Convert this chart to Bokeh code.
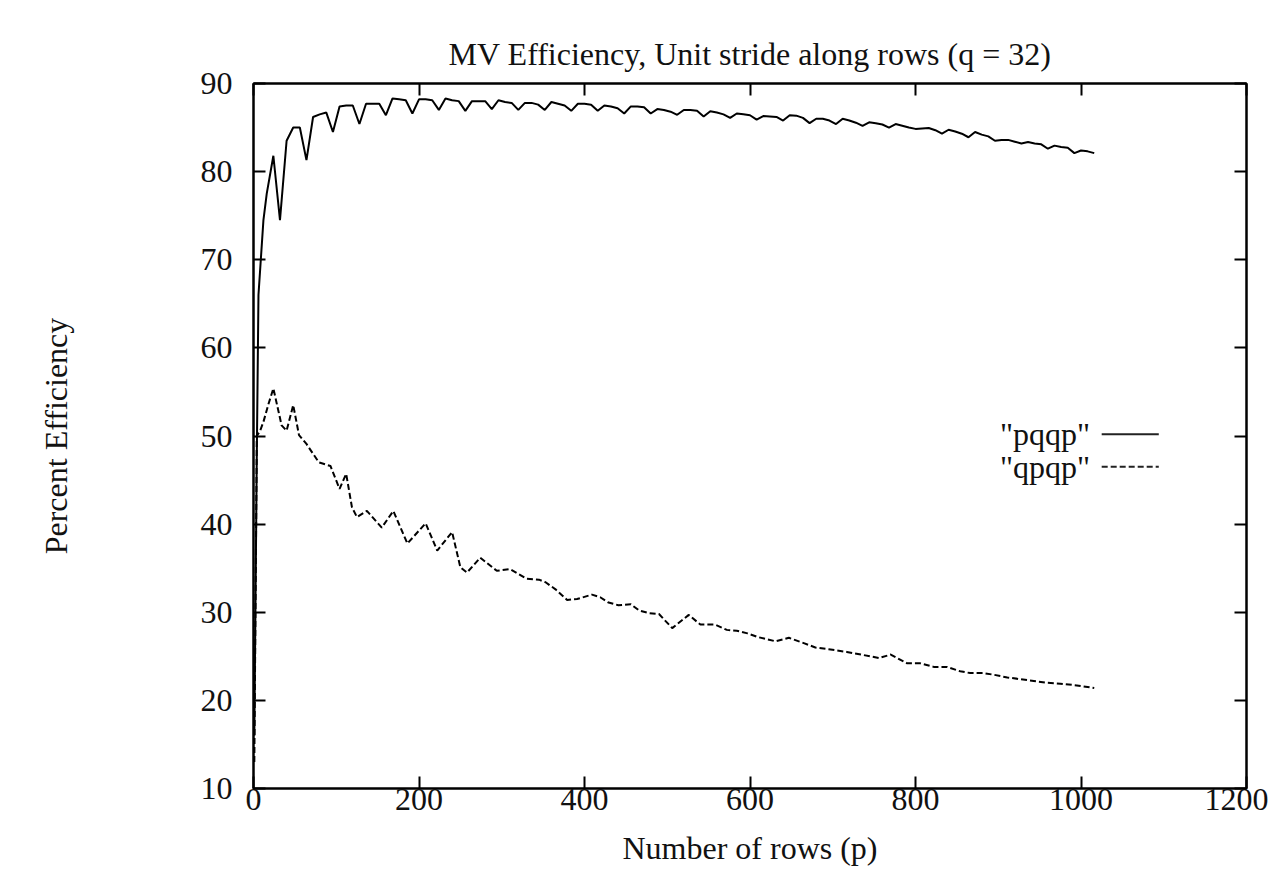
from bokeh.plotting import figure
from bokeh.models import LinearAxis, Range1d, FixedTicker, Label, Arrow
from bokeh.embed import file_html
from bokeh.resources import INLINE

# ---- data ----
pqqp_x = [1, 4, 6, 12, 16, 24, 32, 40, 48, 56, 64, 72, 80, 88, 96, 104, 112, 120, 128,
          136, 144, 152, 160, 168, 176, 184, 192, 200, 208, 216, 224, 232, 240, 248, 256,
          264, 272, 280, 288, 296, 304, 312, 320, 328, 336, 344, 352, 360, 368, 376, 384,
          392, 400, 408, 416, 424, 432, 440, 448, 456, 464, 472, 480, 488, 496, 504, 512,
          520, 528, 536, 544, 552, 560, 568, 576, 584, 592, 600, 608, 616, 624, 632, 640,
          648, 656, 664, 672, 680, 688, 696, 704, 712, 720, 728, 736, 744, 752, 760, 768,
          776, 784, 792, 800, 808, 816, 824, 832, 840, 848, 856, 864, 872, 880, 888, 896,
          904, 912, 920, 928, 936, 944, 952, 960, 968, 976, 984, 992, 1000, 1008, 1016]
pqqp_y = [16.0, 48.0, 66.0, 74.5, 77.5, 81.8, 74.5, 83.5, 85.0, 85.0, 81.3, 86.2, 86.5, 86.7, 84.5,
          87.4, 87.5, 87.5, 85.4, 87.7, 87.7, 87.7, 86.4, 88.3, 88.2, 88.1, 86.6, 88.2, 88.2,
          88.1, 87.0, 88.3, 88.1, 88.0, 86.9, 88.0, 88.0, 88.0, 87.1, 88.1, 87.9, 87.8, 87.0,
          87.8, 87.8, 87.6, 87.0, 87.9, 87.7, 87.5, 86.9, 87.7, 87.7, 87.6, 86.9, 87.5, 87.4,
          87.2, 86.6, 87.4, 87.4, 87.3, 86.6, 87.1, 87.0, 86.8, 86.45, 87.0, 87.0, 86.9, 86.25,
          86.85, 86.7, 86.5, 86.1, 86.6, 86.5, 86.4, 85.9, 86.3, 86.25, 86.2, 85.8, 86.4, 86.35,
          86.1, 85.5, 86.0, 86.0, 85.8, 85.4, 86.0, 85.8, 85.55, 85.2, 85.6, 85.5, 85.35, 85.0,
          85.4, 85.2, 85.0, 84.85, 84.9, 84.95, 84.7, 84.3, 84.75, 84.55, 84.3, 83.9, 84.5,
          84.2, 84.0, 83.5, 83.6, 83.6, 83.4, 83.2, 83.35, 83.2, 83.1, 82.6, 82.95, 82.8, 82.7,
          82.1, 82.4, 82.3, 82.1]

qpqp_x = [1, 4, 8, 12, 18, 24, 34, 40, 48, 55, 64, 79, 93, 104, 112, 119, 125, 137, 155,
          169, 186, 208, 222, 240, 250, 258, 274, 294, 310, 330, 345, 353, 365, 379, 391,
          409, 419, 429, 441, 456, 466, 478, 490, 506, 526, 540, 558, 572, 584, 597, 609,
          631, 647, 665, 679, 695, 717, 734, 756, 770, 790, 806, 822, 838, 854, 866, 882,
          895, 911, 927, 943, 959, 975, 995, 1016]
qpqp_y = [13.0, 50.0, 50.6, 51.6, 53.6, 55.4, 51.2, 50.6, 53.5, 50.1, 49.1, 47.0, 46.6, 44.0,
          45.7, 41.9, 40.8, 41.5, 39.6, 41.5, 37.8, 40.1, 37.0, 39.1, 35.1, 34.5, 36.2, 34.7,
          34.9, 33.8, 33.7, 33.4, 32.6, 31.4, 31.5, 32.0, 31.7, 31.1, 30.8, 30.9, 30.2, 29.9,
          29.8, 28.2, 29.7, 28.6, 28.6, 28.0, 27.9, 27.6, 27.2, 26.7, 27.1, 26.5, 26.0, 25.8,
          25.5, 25.2, 24.8, 25.2, 24.2, 24.2, 23.8, 23.8, 23.3, 23.1, 23.1, 22.9, 22.6, 22.4,
          22.2, 22.0, 21.9, 21.7, 21.4]

series_names = ['"pqqp"', '"qpqp"']
x_ticks = [0, 200, 400, 600, 800, 1000, 1200]
y_ticks = [10, 20, 30, 40, 50, 60, 70, 80, 90]
title_text = "MV Efficiency, Unit stride along rows (q = 32)"
x_label = "Number of rows (p)"
y_label = "Percent Efficiency"

FONT = "Liberation Serif"
FS = "32px"
INK = "#111111"

p = figure(width=1268, height=869, output_backend="svg", toolbar_location=None,
           x_range=Range1d(0, 1200), y_range=Range1d(10, 90),
           min_border_left=253, min_border_right=22, min_border_top=83, min_border_bottom=81,
           title=title_text)
p.background_fill_color = "white"
p.border_fill_color = "white"
p.outline_line_color = "black"
p.outline_line_width = 2
p.grid.visible = False

p.title.text_font = FONT
p.title.text_font_size = FS
p.title.text_font_style = "normal"
p.title.text_color = INK
p.title.align = "center"
p.title.standoff = 23

def style_axis(ax):
    ax.axis_line_color = "black"
    ax.axis_line_width = 2
    ax.major_tick_in = 12
    ax.major_tick_out = 0
    ax.major_tick_line_width = 2
    ax.major_tick_line_color = "black"
    ax.minor_tick_line_color = None
    ax.major_label_text_font = FONT
    ax.major_label_text_font_size = FS
    ax.major_label_text_color = INK
    ax.axis_label_text_font = FONT
    ax.axis_label_text_font_size = FS
    ax.axis_label_text_font_style = "normal"
    ax.axis_label_text_color = INK

xa = p.xaxis[0]
xa.ticker = FixedTicker(ticks=x_ticks)
style_axis(xa)
xa.major_label_standoff = 0
xa.axis_label = x_label
xa.axis_label_standoff = 17

ya = p.yaxis[0]
ya.ticker = FixedTicker(ticks=y_ticks)
style_axis(ya)
ya.major_label_standoff = 21
ya.axis_label = y_label
ya.axis_label_standoff = 124

# mirrored tick marks (gnuplot style), no labels drawn
for loc, ticks in (("above", x_ticks), ("right", y_ticks)):
    ax = LinearAxis(ticker=FixedTicker(ticks=ticks))
    style_axis(ax)
    ax.major_label_overrides = {t: "" for t in ticks}
    ax.major_label_text_font_size = "1px"
    ax.major_label_text_color = None
    ax.major_label_standoff = 0
    p.add_layout(ax, loc)

p.line(pqqp_x, pqqp_y, line_color="black", line_width=2)
p.line(qpqp_x, qpqp_y, line_color="black", line_width=2, line_dash="6 3")

# legend (gnuplot style: label on the left, sample on the right)
leg_text_x = 1011
leg_line_x0, leg_line_x1 = 1025, 1094
leg_rows = [50.2, 46.5]
dashes = ["solid", "6 3"]
for name, yy, dash in zip(series_names, leg_rows, dashes):
    p.add_layout(Label(x=leg_text_x, y=yy, text=name, text_align="right",
                       text_baseline="middle", text_font=FONT, text_font_size=FS,
                       text_color=INK))
    p.add_layout(Arrow(end=None, x_start=leg_line_x0, y_start=yy, x_end=leg_line_x1,
                       y_end=yy, line_width=2, line_color="#222222", line_dash=dash))

open("out.html", "w").write(file_html(p, INLINE))
